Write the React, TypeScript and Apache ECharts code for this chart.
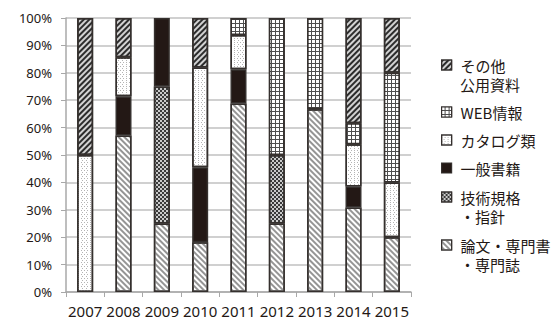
import { useEffect, useRef } from 'react';
import * as echarts from 'echarts';

// Share of each source type per year (percent of total)
const years = ['2007', '2008', '2009', '2010', '2011', '2012', '2013', '2014', '2015'];
const ronbun = [0, 57.1, 25, 18.2, 68.8, 25, 66.7, 30.8, 20];
const gijutsu = [0, 0, 50, 0, 0, 25, 0, 0, 0];
const ippan = [0, 14.3, 25, 27.3, 12.5, 0, 0, 7.7, 0];
const catalog = [50, 14.3, 0, 36.4, 12.5, 0, 0, 15.4, 20];
const web = [0, 0, 0, 0, 6.2, 50, 33.3, 7.7, 40];
const sonota = [50, 14.3, 0, 18.1, 0, 0, 0, 38.4, 20];
const yTicks = [0, 10, 20, 30, 40, 50, 60, 70, 80, 90, 100];

const FONT = '"Noto Sans CJK JP", "Noto Sans", sans-serif';
const NUM_FONT = '"Noto Sans", "Noto Sans CJK JP", sans-serif';
const BORDER = '#35302e';

type SeriesDef = {
  name: string;
  first: string;
  second?: string;
  values: number[];
  color: string;
  decal?: any;
};

// bottom-to-top stacking order; bar colour is the pattern's ground
const seriesDefs: SeriesDef[] = [
  {
    name: '論文・専門書・専門誌',
    first: '論文・専門書',
    second: '・専門誌',
    values: ronbun,
    color: '#ffffff',
    decal: {
      symbol: 'rect',
      symbolSize: 1,
      color: '#959595',
      dashArrayX: [1, 0],
      dashArrayY: [1.4, 1.6],
      rotation: Math.PI / 4,
    },
  },
  {
    name: '技術規格・指針',
    first: '技術規格',
    second: '・指針',
    values: gijutsu,
    color: '#cacaca',
    decal: {
      symbol: 'rect',
      symbolSize: 1,
      color: '#3a3a3a',
      dashArrayX: [[2, 2], [0, 2, 2, 0]],
      dashArrayY: [2, 0],
      rotation: 0,
    },
  },
  {
    name: '一般書籍',
    first: '一般書籍',
    values: ippan,
    color: '#231815',
  },
  {
    name: 'カタログ類',
    first: 'カタログ類',
    values: catalog,
    color: '#ffffff',
    decal: {
      symbol: 'rect',
      symbolSize: 1,
      color: '#b4b4b4',
      dashArrayX: [[1, 2], [0, 1.5, 1, 0.5]],
      dashArrayY: [1, 1],
      rotation: 0,
    },
  },
  {
    name: 'WEB情報',
    first: 'WEB情報',
    values: web,
    color: '#4e4e4e',
    decal: {
      symbol: 'rect',
      symbolSize: 1,
      color: '#ffffff',
      dashArrayX: [3, 1],
      dashArrayY: [3, 1],
      rotation: 0,
    },
  },
  {
    name: 'その他公用資料',
    first: 'その他',
    second: '公用資料',
    values: sonota,
    color: '#d2d2d2',
    decal: {
      symbol: 'rect',
      symbolSize: 1,
      color: '#2c2c2c',
      dashArrayX: [1, 0],
      dashArrayY: [1.6, 1.4],
      rotation: -Math.PI / 4,
    },
  },
];

// legend rows, top to bottom
const legendOrder = ['その他公用資料', 'WEB情報', 'カタログ類', '一般書籍', '技術規格・指針', '論文・専門書・専門誌'];
const legendCenters = [65, 112, 140, 168, 197, 245];
const LINE_GAP = 19;
const LEGEND_LEFT = 441;
const LEGEND_TEXT_X = 460;

export default function App() {
  const ref = useRef<HTMLDivElement>(null);

  useEffect(() => {
    if (!ref.current) return;
    const chart = echarts.init(ref.current, null, { renderer: 'svg' });

    const firstLine: Record<string, string> = {};
    seriesDefs.forEach((s) => (firstLine[s.name] = s.first));

    const legends = legendOrder.map((name, i) => ({
      data: [{ name, icon: 'rect' }],
      left: LEGEND_LEFT,
      top: legendCenters[i] - 8,
      orient: 'vertical',
      padding: 0,
      itemWidth: 10,
      itemHeight: 10,
      selectedMode: false,
      formatter: (n: string) => firstLine[n],
      itemStyle: { borderColor: BORDER, borderWidth: 1.2 },
      textStyle: {
        fontFamily: FONT,
        fontSize: 15,
        lineHeight: 16,
        color: '#231815',
        padding: [0, 0, 0, 4],
      },
    }));

    const secondLines = legendOrder
      .map((name, i) => {
        const def = seriesDefs.find((s) => s.name === name)!;
        if (!def.second) return null;
        return {
          type: 'text',
          x: LEGEND_TEXT_X,
          y: legendCenters[i] + LINE_GAP,
          style: {
            text: def.second,
            font: `15px ${FONT}`,
            lineHeight: 16,
            fill: '#231815',
            verticalAlign: 'middle',
          },
        };
      })
      .filter(Boolean);

    chart.setOption({
      animation: false,
      backgroundColor: '#ffffff',
      grid: { left: 66, right: 144, top: 18, bottom: 29, containLabel: false },
      legend: legends,
      graphic: secondLines,
      xAxis: {
        type: 'category',
        data: years,
        boundaryGap: true,
        axisLine: { show: true, lineStyle: { color: '#a8a8a8', width: 1.5 } },
        axisTick: { show: true, length: 5, lineStyle: { color: '#a8a8a8', width: 1 } },
        axisLabel: {
          interval: 0,
          fontFamily: NUM_FONT,
          fontSize: 15,
          color: '#231815',
          margin: 11,
        },
      },
      yAxis: {
        type: 'value',
        min: yTicks[0],
        max: yTicks[yTicks.length - 1],
        interval: yTicks[1] - yTicks[0],
        axisLine: { show: true, lineStyle: { color: '#a8a8a8', width: 1.5 } },
        axisTick: { show: true, length: 5, lineStyle: { color: '#a8a8a8', width: 1 } },
        axisLabel: {
          formatter: '{value}%',
          fontFamily: NUM_FONT,
          fontSize: 13,
          color: '#231815',
          margin: 14,
        },
        splitLine: { show: true, lineStyle: { color: '#c0c0c0', width: 1.5 } },
      },
      series: seriesDefs.map((s) => ({
        name: s.name,
        type: 'bar',
        stack: 'share',
        barWidth: 16,
        data: s.values.map((v) => (v === 0 ? null : v)),
        itemStyle: {
          color: s.color,
          borderColor: BORDER,
          borderWidth: 1.5,
          ...(s.decal ? { decal: s.decal } : {}),
        },
        emphasis: { disabled: true },
      })),
    });

    return () => chart.dispose();
  }, []);

  return (
    <div
      ref={ref}
      style={{ position: 'fixed', left: 0, top: 0, width: 555, height: 321 }}
    />
  );
}
